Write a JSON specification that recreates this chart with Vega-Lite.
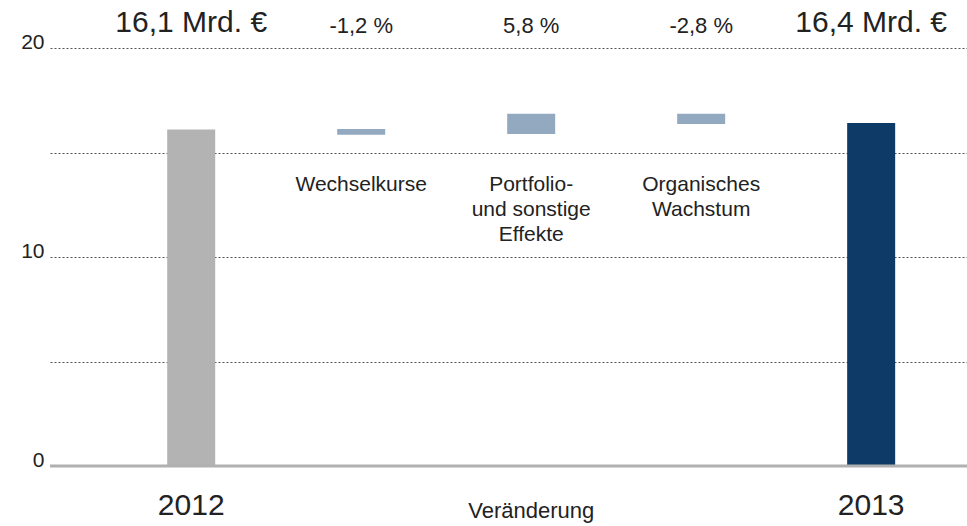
{
  "$schema": "https://vega.github.io/schema/vega-lite/v6.json",
  "width": 917,
  "height": 418,
  "autosize": "none",
  "padding": {"left": 50, "top": 48, "right": 0, "bottom": 60},
  "background": "white",
  "config": {"view": {"stroke": null}, "font": "Liberation Sans", "text": {"color": "#222"}},
  "data": {
    "values": [
      {"key": "2012", "kind": "total2012", "start": 0, "end": 16.1, "top": "16,1 Mrd. €", "label": "", "bottom": "2012"},
      {"key": "W", "kind": "change", "start": 16.12, "end": 15.85, "top": "-1,2 %", "label": "Wechselkurse", "bottom": ""},
      {"key": "P", "kind": "change", "start": 15.88, "end": 16.85, "top": "5,8 %", "label": "Portfolio-\nund sonstige\nEffekte", "bottom": "Veränderung"},
      {"key": "O", "kind": "change", "start": 16.85, "end": 16.36, "top": "-2,8 %", "label": "Organisches\nWachstum", "bottom": ""},
      {"key": "2013", "kind": "total2013", "start": 0, "end": 16.41, "top": "16,4 Mrd. €", "label": "", "bottom": "2013"}
    ]
  },
  "layer": [
    {
      "mark": {"type": "bar"},
      "encoding": {
        "x": {"field": "key", "type": "nominal", "axis": null, "sort": null,
          "scale": {"domain": ["2012", "W", "P", "O", "2013"], "paddingInner": 0.7176, "paddingOuter": 0.556, "align": 0.62}},
        "y": {"field": "start", "type": "quantitative", "scale": {"domain": [0, 20], "nice": false},
          "axis": {"values": [0, 5, 10, 15, 20], "labelExpr": "datum.value % 10 == 0 ? datum.label : ''",
            "ticks": false, "domain": false, "grid": true, "gridDash": [2, 2], "gridColor": "#555", "gridWidth": 1,
            "gridOpacity": {"condition": {"test": "datum.value == 0", "value": 0}, "value": 1},
            "labelFontSize": 21, "labelColor": "#222", "labelPadding": 6, "labelBaseline": "alphabetic", "title": null}},
        "y2": {"field": "end"},
        "color": {"field": "kind", "type": "nominal", "legend": null,
          "scale": {"domain": ["total2012", "change", "total2013"], "range": ["#b3b3b3", "#93a9bf", "#0d3a66"]}}
      }
    },
    {
      "data": {"values": [{"v": 0}]},
      "mark": {"type": "rule", "color": "#b0b0b0", "strokeWidth": 3},
      "encoding": {"y": {"field": "v", "type": "quantitative"}}
    },
    {
      "transform": [{"filter": "datum.kind != 'change'"}],
      "mark": {"type": "text", "fontSize": 30, "baseline": "middle", "dy": -25},
      "encoding": {
        "x": {"field": "key", "type": "nominal", "sort": null},
        "y": {"datum": 20},
        "text": {"field": "top"}
      }
    },
    {
      "transform": [{"filter": "datum.kind == 'change'"}],
      "mark": {"type": "text", "fontSize": 22, "baseline": "middle", "dy": -22},
      "encoding": {
        "x": {"field": "key", "type": "nominal", "sort": null},
        "y": {"datum": 20},
        "text": {"field": "top"}
      }
    },
    {
      "transform": [{"filter": "datum.kind == 'change'"}],
      "mark": {"type": "text", "fontSize": 21, "baseline": "top", "dy": 21, "lineBreak": "\n", "lineHeight": 25},
      "encoding": {
        "x": {"field": "key", "type": "nominal", "sort": null},
        "y": {"datum": 15},
        "text": {"field": "label"}
      }
    },
    {
      "transform": [{"filter": "datum.kind != 'change'"}],
      "mark": {"type": "text", "fontSize": 30, "baseline": "middle", "dy": 40},
      "encoding": {
        "x": {"field": "key", "type": "nominal", "sort": null},
        "y": {"datum": 0},
        "text": {"field": "bottom"}
      }
    },
    {
      "transform": [{"filter": "datum.key == 'P'"}],
      "mark": {"type": "text", "fontSize": 22, "baseline": "middle", "dy": 45},
      "encoding": {
        "x": {"field": "key", "type": "nominal", "sort": null},
        "y": {"datum": 0},
        "text": {"field": "bottom"}
      }
    }
  ]
}
